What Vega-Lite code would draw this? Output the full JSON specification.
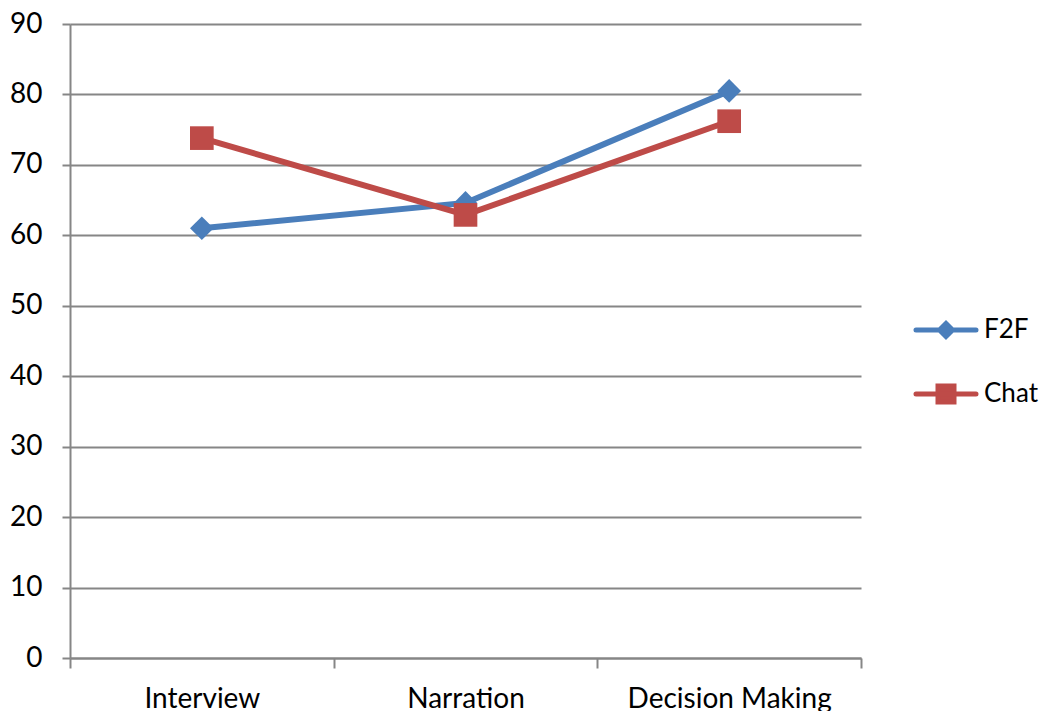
{
  "$schema": "https://vega.github.io/schema/vega-lite/v6.json",
  "width": 791,
  "height": 634,
  "autosize": "none",
  "padding": {"left": 70, "top": 24, "right": 184, "bottom": 53},
  "background": "white",
  "config": {"font": "Lato", "view": {"stroke": null}},
  "data": {
    "values": [
      {"task": "Interview", "series": "F2F", "value": 61},
      {"task": "Narration", "series": "F2F", "value": 64.6},
      {"task": "Decision Making", "series": "F2F", "value": 80.5},
      {"task": "Interview", "series": "Chat", "value": 73.8},
      {"task": "Narration", "series": "Chat", "value": 62.9},
      {"task": "Decision Making", "series": "Chat", "value": 76.2}
    ]
  },
  "encoding": {
    "x": {
      "field": "task",
      "type": "nominal",
      "sort": ["Interview", "Narration", "Decision Making"],
      "bandPosition": 0.5,
      "scale": {"type": "band", "paddingInner": 0, "paddingOuter": 0},
      "axis": {
        "title": null,
        "labelAngle": 0,
        "tickBand": "extent",
        "domainColor": "#868686",
        "domainWidth": 2,
        "tickColor": "#868686",
        "tickWidth": 2,
        "tickSize": 10,
        "labelFontSize": 28,
        "labelColor": "black",
        "labelPadding": 17,
        "labelLimit": 0,
        "grid": false
      }
    },
    "y": {
      "field": "value",
      "type": "quantitative",
      "scale": {"domain": [0, 90], "nice": false},
      "axis": {
        "title": null,
        "values": [0, 10, 20, 30, 40, 50, 60, 70, 80, 90],
        "grid": true,
        "gridColor": "#868686",
        "gridWidth": 2,
        "domainColor": "#868686",
        "domainWidth": 2,
        "tickColor": "#868686",
        "tickWidth": 2,
        "tickSize": 8,
        "labelFontSize": 28,
        "labelColor": "black",
        "labelPadding": 20
      }
    },
    "color": {
      "field": "series",
      "type": "nominal",
      "scale": {"domain": ["F2F", "Chat"], "range": ["#4A7EBB", "#BE4B48"]},
      "legend": {
        "title": null,
        "orient": "none",
        "legendX": 863,
        "legendY": 293,
        "padding": 0,
        "labelFontSize": 26,
        "labelColor": "black",
        "labelOffset": 25,
        "labelLimit": 0,
        "rowPadding": 29,
        "symbolSize": 100,
        "encode": {
          "symbols": {
            "update": {
              "shape": {"signal": "datum.value === 'F2F' ? 'M-6,0H6M0,-1.3L1.3,0L0,1.3L-1.3,0Z' : 'M-6,0H6M-1.6,-1.6H1.6V1.6H-1.6Z'"},
              "fill": {"signal": "scale('color', datum.value)"},
              "stroke": {"signal": "scale('color', datum.value)"},
              "strokeWidth": {"value": 5},
              "strokeCap": {"value": "round"},
              "size": {"value": 100},
              "opacity": {"value": 1},
              "fillOpacity": {"value": 1},
              "strokeOpacity": {"value": 1}
            }
          }
        }
      }
    }
  },
  "layer": [
    {
      "transform": [{"filter": "datum.series === 'F2F'"}],
      "mark": {"type": "line", "strokeWidth": 6, "strokeCap": "round"}
    },
    {
      "transform": [{"filter": "datum.series === 'F2F'"}],
      "mark": {"type": "point", "filled": true, "opacity": 1, "shape": "diamond", "size": 560}
    },
    {
      "transform": [{"filter": "datum.series === 'Chat'"}],
      "mark": {"type": "line", "strokeWidth": 6, "strokeCap": "round"}
    },
    {
      "transform": [{"filter": "datum.series === 'Chat'"}],
      "mark": {"type": "point", "filled": true, "opacity": 1, "shape": "square", "size": 560}
    }
  ]
}
